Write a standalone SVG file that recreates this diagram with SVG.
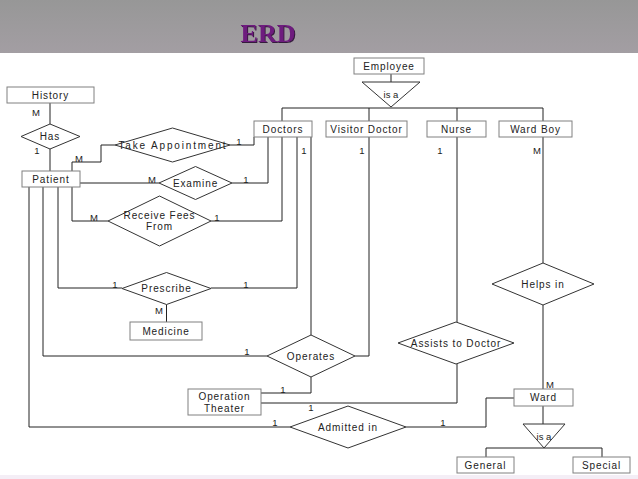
<svg xmlns="http://www.w3.org/2000/svg" width="638" height="479" viewBox="0 0 638 479">
<style>
.box{fill:#fff;stroke:#808080;stroke-width:1}
.dia{fill:#fff;stroke:#333;stroke-width:1}
.ln{fill:none;stroke:#222;stroke-width:1}
text{font-family:"Liberation Sans",Arial,sans-serif;font-size:10px;fill:#222;text-anchor:middle;letter-spacing:0.9px}
.lb{font-size:9.5px;letter-spacing:0}
</style>
<defs>
<linearGradient id="bar" x1="0" y1="0" x2="0" y2="1">
<stop offset="0" stop-color="#979797"/>
<stop offset="1" stop-color="#a39ea3"/>
</linearGradient>
<filter id="sh" x="-10%" y="-10%" width="130%" height="140%">
<feDropShadow dx="1" dy="1" stdDeviation="0.4" flood-color="#2a0a30" flood-opacity="0.9"/>
</filter>
</defs>
<rect width="638" height="479" fill="#fff"/>
<rect x="0" y="0" width="638" height="53" fill="url(#bar)"/>
<rect x="0" y="475" width="638" height="4" fill="#f4eef6"/>
<text x="268" y="42" filter="url(#sh)" style="font-family:'Liberation Serif','Times New Roman',serif;font-size:26px;font-weight:bold;fill:#6e1a7e;letter-spacing:0">ERD</text>

<g id="connectors">
<path class="ln" d="M391 74V82"/>
<path class="ln" d="M282 121V108H543V121M369 108V121M457 108V121"/>
<path class="ln" d="M50 103V124M50 149V171"/>
<path class="ln" d="M72 171V162H101V145H115M230 145H254V137"/>
<path class="ln" d="M80 183H159M232 183H268V137"/>
<path class="ln" d="M72 187V221H108M211 221H282V137"/>
<path class="ln" d="M58 187V288H122M211 288H297V137M166.5 304.5V322"/>
<path class="ln" d="M43 187V356H267M311 137V335M355 356H369V137M311 377V393H261"/>
<path class="ln" d="M457 137V322M457 364V403H261"/>
<path class="ln" d="M543 137V263M543 305V389"/>
<path class="ln" d="M29 187V427H290M406 427H486V398H514"/>
<path class="ln" d="M543 406V424M486 457V448H602V457"/>
</g>

<g id="employee"><rect class="box" x="354" y="58" width="70" height="16"/><text x="389" y="70">Employee</text></g>
<g id="isa-employee"><path class="dia" d="M362 82H420L391 107Z"/><text x="391" y="98" class="lb">is a</text></g>
<g id="doctors"><rect class="box" x="254" y="121" width="58" height="16"/><text x="283" y="133">Doctors</text></g>
<g id="visitor-doctor"><rect class="box" x="326" y="121" width="81" height="16"/><text x="366.5" y="133">Visitor Doctor</text></g>
<g id="nurse"><rect class="box" x="427" y="121" width="59" height="16"/><text x="456.5" y="133">Nurse</text></g>
<g id="ward-boy"><rect class="box" x="499" y="121" width="73" height="16"/><text x="535.5" y="133">Ward Boy</text></g>

<g id="history"><rect class="box" x="7" y="87" width="87" height="16"/><text x="50.5" y="99">History</text></g>
<g id="has"><path class="dia" d="M21 136.5L50 124L80 136.5L50 149Z"/><text x="50" y="140">Has</text></g>
<g id="patient"><rect class="box" x="22" y="171" width="58" height="16"/><text x="51" y="183">Patient</text></g>
<g id="take-appointment"><path class="dia" d="M115 145L172.5 128L230 145L172.5 162Z"/><text x="172.5" y="148.5" textLength="108" lengthAdjust="spacing">Take Appointment</text></g>
<g id="examine"><path class="dia" d="M159 183L195.5 166.5L232 183L195.5 199.5Z"/><text x="195.5" y="186.5">Examine</text></g>
<g id="receive-fees"><path class="dia" d="M108 221L159.5 196L211 221L159.5 246Z"/><text x="159.5" y="218.5">Receive Fees</text><text x="159.5" y="230">From</text></g>
<g id="prescribe"><path class="dia" d="M122 288.5L166.5 272.5L211 288.5L166.5 304.5Z"/><text x="166.5" y="292">Prescribe</text></g>
<g id="medicine"><rect class="box" x="130" y="322" width="72" height="18"/><text x="166" y="335">Medicine</text></g>
<g id="operates"><path class="dia" d="M267 356L311 335L355 356L311 377Z"/><text x="311" y="359.5">Operates</text></g>
<g id="operation-theater"><rect class="box" x="188" y="389" width="73" height="26"/><text x="224.5" y="400">Operation</text><text x="224.5" y="411.5">Theater</text></g>
<g id="assists-to-doctor"><path class="dia" d="M398 343L456 322L514 343L456 364Z"/><text x="456" y="346.5">Assists to Doctor</text></g>
<g id="helps-in"><path class="dia" d="M492 284L543 263L594 284L543 305Z"/><text x="543" y="287.5">Helps in</text></g>
<g id="admitted-in"><path class="dia" d="M290 427L348 406L406 427L348 448Z"/><text x="348" y="430.5">Admitted in</text></g>
<g id="ward"><rect class="box" x="514" y="389" width="59" height="17"/><text x="543.5" y="401">Ward</text></g>
<g id="isa-ward"><path class="dia" d="M523 424H565L544 448Z"/><text x="544" y="440" class="lb">is a</text></g>
<g id="general"><rect class="box" x="457" y="457" width="57" height="16"/><text x="485.5" y="469">General</text></g>
<g id="special"><rect class="box" x="573" y="457" width="57" height="16"/><text x="601.5" y="469">Special</text></g>

<g id="cardinalities">
<text class="lb" x="36" y="115.5">M</text>
<text class="lb" x="37" y="153.5">1</text>
<text class="lb" x="79" y="161.5">M</text>
<text class="lb" x="239" y="144.5">1</text>
<text class="lb" x="152" y="182.5">M</text>
<text class="lb" x="246" y="182.5">1</text>
<text class="lb" x="94" y="220.5">M</text>
<text class="lb" x="217" y="220.5">1</text>
<text class="lb" x="115" y="288">1</text>
<text class="lb" x="246" y="288">1</text>
<text class="lb" x="159" y="313.5">M</text>
<text class="lb" x="304" y="153.5">1</text>
<text class="lb" x="362" y="153.5">1</text>
<text class="lb" x="440" y="153.5">1</text>
<text class="lb" x="537" y="153.5">M</text>
<text class="lb" x="247" y="355">1</text>
<text class="lb" x="283" y="393">1</text>
<text class="lb" x="311" y="410.5">1</text>
<text class="lb" x="275" y="426">1</text>
<text class="lb" x="443" y="426">1</text>
<text class="lb" x="550" y="387.5">M</text>
</g>
</svg>
